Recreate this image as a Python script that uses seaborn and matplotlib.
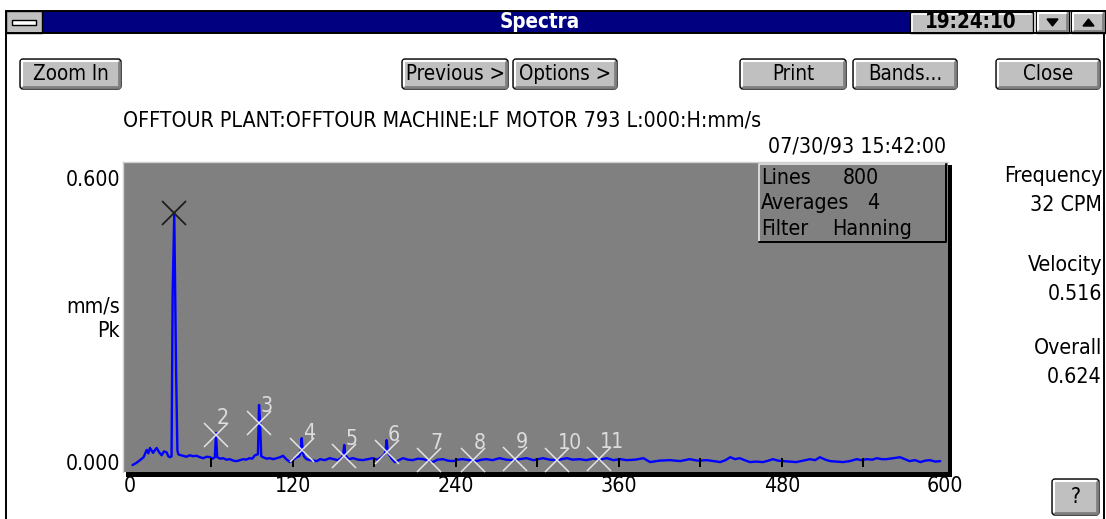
import numpy as np
import pandas as pd
import matplotlib
matplotlib.use("Agg")
import matplotlib.pyplot as plt
import seaborn as sns
from matplotlib import font_manager
from matplotlib.patches import Rectangle, FancyBboxPatch, Polygon
from matplotlib.lines import Line2D
from matplotlib.transforms import ScaledTranslation

# ---------------- data ----------------
freq_cpm = [1.9, 4.5, 7.4, 10.0, 12.3, 13.5, 14.7, 17.0, 18.2, 19.6, 21.5, 23.3, 25.0, 27.0, 28.2,
            29.5, 30.6, 31.4, 32.6, 33.9, 34.9, 35.6, 37.5, 39.0, 41.5, 44.0, 46.5, 49.0, 51.5,
            54.0, 56.5, 59.0, 61.0, 62.5, 63.3, 64.2, 66.5, 68.6, 71.0, 73.6, 76.0, 78.6, 81.0,
            83.4, 85.5, 88.0, 90.0, 92.0, 94.2, 95.0, 95.8, 96.6, 98.0, 100.5, 103.0, 105.5,
            108.0, 110.5, 112.7, 115.0, 117.8, 120.0, 122.7, 124.5, 125.6, 126.4, 127.2, 128.0,
            130.0, 132.5, 135.0, 137.5, 140.0, 143.5, 147.0, 150.0, 153.0, 156.2, 157.0, 157.8,
            158.6, 161.0, 164.0, 168.0, 171.6, 175.0, 179.0, 182.0, 185.0, 187.4, 188.2, 189.0,
            189.8, 191.5, 193.0, 195.0, 198.0, 201.0, 204.5, 208.0, 212.0, 216.0, 219.5, 223.0,
            226.5, 230.5, 234.0, 238.0, 241.5, 245.0, 250.0, 255.0, 259.0, 262.6, 267.0, 272.0,
            277.0, 282.0, 287.0, 292.0, 297.0, 304.0, 309.0, 314.0, 318.0, 321.6, 326.0, 331.0,
            336.0, 341.0, 346.0, 351.0, 356.0, 361.0, 365.7, 372.0, 378.0, 383.0, 390.0, 397.6,
            405.0, 412.0, 418.0, 424.6, 430.0, 434.5, 438.5, 442.0, 445.5, 449.0, 452.5, 456.5,
            461.0, 466.0, 470.0, 473.5, 477.0, 481.0, 486.0, 490.6, 495.5, 500.7, 504.5, 508.0,
            512.0, 515.5, 520.0, 525.0, 530.0, 535.0, 538.5, 542.5, 546.5, 550.0, 553.5, 557.0,
            562.0, 567.0, 570.5, 574.0, 578.0, 582.0, 585.5, 589.0, 593.0, 596.6]
velocity = [0.000, 0.004, 0.010, 0.016, 0.031, 0.024, 0.035, 0.025, 0.030, 0.035, 0.026, 0.020, 0.028, 0.026, 0.018,
            0.016, 0.018, 0.352, 0.516, 0.200, 0.030, 0.022, 0.020, 0.019, 0.017, 0.020, 0.018, 0.019, 0.016,
            0.014, 0.017, 0.016, 0.013, 0.016, 0.066, 0.016, 0.013, 0.014, 0.011, 0.012, 0.009, 0.008, 0.010,
            0.012, 0.011, 0.014, 0.013, 0.020, 0.022, 0.123, 0.087, 0.018, 0.016, 0.013, 0.014, 0.012,
            0.014, 0.016, 0.019, 0.012, 0.006, 0.010, 0.016, 0.018, 0.024, 0.055, 0.030, 0.018,
            0.012, 0.010, 0.009, 0.008, 0.012, 0.010, 0.014, 0.012, 0.010, 0.016, 0.024, 0.041,
            0.020, 0.012, 0.014, 0.011, 0.010, 0.012, 0.014, 0.011, 0.016, 0.022, 0.030, 0.051,
            0.026, 0.018, 0.012, 0.006, 0.010, 0.014, 0.011, 0.010, 0.013, 0.012, 0.009, 0.006,
            0.011, 0.012, 0.009, 0.008, 0.011, 0.012, 0.010, 0.008, 0.011, 0.012, 0.010, 0.014,
            0.011, 0.010, 0.012, 0.014, 0.010, 0.014, 0.011, 0.010, 0.012, 0.014, 0.011, 0.012,
            0.010, 0.013, 0.011, 0.014, 0.010, 0.012, 0.010, 0.011, 0.014, 0.006, 0.009, 0.010,
            0.008, 0.012, 0.009, 0.010, 0.008, 0.006, 0.010, 0.016, 0.012, 0.014, 0.010, 0.006,
            0.007, 0.006, 0.009, 0.012, 0.009, 0.008, 0.007, 0.006, 0.009, 0.012, 0.010, 0.016,
            0.011, 0.008, 0.007, 0.006, 0.008, 0.012, 0.010, 0.012, 0.011, 0.014, 0.012, 0.012,
            0.014, 0.016, 0.012, 0.008, 0.010, 0.006, 0.009, 0.010, 0.007, 0.008]

peak_freq = [32.6, 63.3, 95.2, 126.4, 157.8, 189.0, 220.4, 252.4, 283.5, 314.2, 345.6]
peak_amp = [0.516, 0.061, 0.087, 0.031, 0.018, 0.027, 0.010, 0.010, 0.012, 0.010, 0.012]
peak_labels = ["", "2", "3", "4", "5", "6", "7", "8", "9", "10", "11"]

x_ticks = [0, 120, 240, 360, 480, 600]
x_tick_labels = ["0", "120", "240", "360", "480", "600"]
x_minor = [60, 120, 180, 240, 300, 360, 420, 480, 540]
y_ticks = [0.0, 0.6]
y_tick_labels = ["0.000", "0.600"]
y_unit = ["mm/s", "Pk"]

title_text = "OFFTOUR PLANT:OFFTOUR MACHINE:LF MOTOR 793 L:000:H:mm/s"
date_text = "07/30/93 15:42:00"
window_title = "Spectra"
clock_text = "19:24:10"
info_keys = ["Lines", "Averages", "Filter"]
info_vals = ["800", "4", "Hanning"]
readout_names = ["Frequency", "Velocity", "Overall"]
readout_vals = ["32 CPM", "0.516", "0.624"]
buttons = ["Zoom In", "Previous >", "Options >", "Print", "Bands...", "Close"]

# ---------------- styling ----------------
sns.set_theme(style="white")
entries = font_manager.fontManager.ttflist
names = {f.name for f in entries}
STRETCH = "normal"
if "Liberation Sans Narrow" in names:
    FAM = ["Liberation Sans Narrow", "DejaVu Sans"]
    FS = 17.3
elif "DejaVu Sans Condensed" in names:
    FAM = ["DejaVu Sans Condensed", "DejaVu Sans"]
    FS = 15.3
elif any(f.name == "DejaVu Sans" and str(f.stretch) in ("condensed", "semi-condensed", "600", "500") for f in entries):
    FAM = ["DejaVu Sans"]
    FS = 15.3
    STRETCH = "condensed"
else:
    FAM = ["Liberation Sans", "DejaVu Sans"]
    FS = 14.5
plt.rcParams["font.family"] = FAM
plt.rcParams["font.stretch"] = STRETCH

W, H = 1106, 519
FACE = "#c0c0c0"
NAVY = "#000080"
PLOTBG = "#808080"

fig = plt.figure(figsize=(W / 100, H / 100), dpi=100)
fig.patch.set_facecolor("white")

bg = fig.add_axes([0, 0, 1, 1], zorder=0)
bg.set_xlim(0, W)
bg.set_ylim(H, 0)
bg.axis("off")


def T(x, y, s, ha="left", va="center", color="black", fs=None, target=None, **kw):
    (target or bg).text(x, y, s, ha=ha, va=va, color=color, fontsize=fs or FS, family=FAM,
                        fontstretch=STRETCH, zorder=5, **kw)


def bevel(x0, y0, x1, y1, face=FACE, rounded=True):
    if rounded:
        bg.add_patch(FancyBboxPatch((x0, y0), x1 - x0, y1 - y0,
                                    boxstyle="round,pad=0,rounding_size=3",
                                    fc=face, ec="black", lw=1.0, zorder=2))
    else:
        bg.add_patch(Rectangle((x0, y0), x1 - x0, y1 - y0, fc=face, ec="black", lw=1.0, zorder=2))
    bg.add_line(Line2D([x0 + 2, x0 + 2, x1 - 3], [y1 - 3, y0 + 2, y0 + 2], color="white", lw=1.5, zorder=3))
    bg.add_line(Line2D([x0 + 2.5, x1 - 2.5, x1 - 2.5], [y1 - 2.5, y1 - 2.5, y0 + 2.5], color="#808080", lw=2.0, zorder=3))


# window frame
bg.add_line(Line2D([6, 6], [11, H], color="black", lw=1.4, zorder=4))
bg.add_line(Line2D([1104, 1104], [33, H], color="black", lw=1.4, zorder=4))
bg.add_line(Line2D([6, W], [11, 11], color="black", lw=1.4, zorder=4))
bg.add_line(Line2D([6, W], [33, 33], color="black", lw=1.4, zorder=4))

# title bar
bg.add_patch(Rectangle((42, 11), 868, 22, fc=NAVY, ec="none", zorder=1))
bg.add_patch(Rectangle((6, 11), 36, 22, fc=FACE, ec="black", lw=1.0, zorder=2))
bg.add_patch(Rectangle((12, 19.5), 24, 5, fc="white", ec="black", lw=1.0, zorder=3))
T(540, 22, window_title, ha="center", color="white", weight="bold", fs=FS - 0.5)
bg.add_patch(Rectangle((910, 12), 123, 21, fc=FACE, ec="black", lw=1.0, zorder=2))
bg.add_line(Line2D([912, 912, 1031], [32, 14, 14], color="white", lw=1.2, zorder=3))
T(971, 22.5, clock_text, ha="center", weight="bold", fs=FS - 0.5)
bevel(1036, 11, 1069, 33, rounded=False)
bevel(1071, 11, 1105, 33, rounded=False)
bg.add_patch(Polygon([[1047, 19], [1058, 19], [1052.5, 26]], closed=True, fc="black", ec="black", zorder=4))
bg.add_patch(Polygon([[1083, 26], [1094, 26], [1088.5, 19]], closed=True, fc="black", ec="black", zorder=4))

# buttons
btn_x = [(20, 121), (402, 508), (513, 617), (740, 846), (853, 957), (996, 1100)]
for (bx0, bx1), lab in zip(btn_x, buttons):
    bevel(bx0, 59, bx1, 89)
    T((bx0 + bx1) / 2, 74.5, lab, ha="center", fs=FS - 0.5)
bevel(1052, 479, 1099, 515)
T(1075.5, 497, "?", ha="center")

# header texts
T(123, 120, title_text)
T(946, 146, date_text, ha="right")

# readouts on the right
for i, (nm, vl) in enumerate(zip(readout_names, readout_vals)):
    y0 = [176, 265, 348][i]
    T(1102, y0, nm, ha="right")
    T(1102, y0 + 29, vl, ha="right")

# unit label
T(120, 306, y_unit[0], ha="right")
T(120, 331, y_unit[1], ha="right")

# plot frame shadow (black right/bottom)
bg.add_patch(Rectangle((126, 472), 826, 4.5, fc="black", ec="none", zorder=1))
bg.add_patch(Rectangle((948, 165), 4, 311, fc="black", ec="none", zorder=1))

# ---------------- spectrum axes ----------------
L, R, TOP, BOT = 123, 948, 162, 472
ax = fig.add_axes([L / W, 1 - BOT / H, (R - L) / W, (BOT - TOP) / H], zorder=2)
ax.set_facecolor(PLOTBG)
ax.set_xlim(-5.15, 602.3)
ax.set_ylim(-0.0143, 0.621)

df = pd.DataFrame({"Frequency (CPM)": freq_cpm, "Velocity (mm/s Pk)": velocity})
sns.lineplot(data=df, x="Frequency (CPM)", y="Velocity (mm/s Pk)", ax=ax, color="#0000ff",
             lw=1.7, estimator=None, sort=False, zorder=3)
ax.vlines(x_minor, -0.004, 0.014, color="black", lw=1.4, zorder=4)

ax.plot(peak_freq[:1], peak_amp[:1], ls="none", marker="x", ms=17, mew=1.3, color="#1e1e1e", zorder=5)
ax.plot(peak_freq[1:], peak_amp[1:], ls="none", marker="x", ms=17, mew=1.1, color="#e4e4e4", zorder=5)
for f, a, lab in zip(peak_freq, peak_amp, peak_labels):
    if lab:
        ax.annotate(lab, (f, a), xytext=(1, 17), textcoords="offset pixels", ha="left", va="center",
                    color="#dcdcdc", fontsize=FS, family=FAM, fontstretch=STRETCH, zorder=6)

ax.set_xlabel("")
ax.set_ylabel("")
ax.set_xticks(x_ticks)
ax.set_xticklabels(x_tick_labels, fontsize=FS, family=FAM, fontstretch=STRETCH, color="black")
ax.set_yticks(y_ticks)
ax.set_yticklabels(y_tick_labels, fontsize=FS, family=FAM, fontstretch=STRETCH, color="black")
ax.tick_params(axis="x", length=0, pad=3.0)
ax.tick_params(axis="y", length=0, pad=2.2)
for lbl, dy in zip(ax.get_yticklabels(), [3, -6]):
    lbl.set_transform(lbl.get_transform() + ScaledTranslation(0, dy / 100, fig.dpi_scale_trans))
for s in ["right", "bottom"]:
    ax.spines[s].set_visible(False)
for s in ["left", "top"]:
    ax.spines[s].set_visible(True)
    ax.spines[s].set_color("#d0d0d0")
    ax.spines[s].set_linewidth(1.0)

# info box inside the plot
ax_box = fig.add_axes([0, 0, 1, 1], zorder=3)
ax_box.set_xlim(0, W)
ax_box.set_ylim(H, 0)
ax_box.axis("off")
ax_box.add_patch(Rectangle((758, 163), 189, 79, fc=PLOTBG, ec="none"))
ax_box.add_line(Line2D([759, 759, 946], [241, 164, 164], color="#e8e8e8", lw=1.2))
ax_box.add_line(Line2D([759, 946, 946], [241.5, 241.5, 164], color="black", lw=1.4))
for i, (k, v) in enumerate(zip(info_keys, info_vals)):
    yy = [178, 203, 229][i]
    T(761, yy, k, target=ax_box)
    T([843, 867, 832][i], yy, v, target=ax_box)

fig.savefig("out.png", dpi=100)
